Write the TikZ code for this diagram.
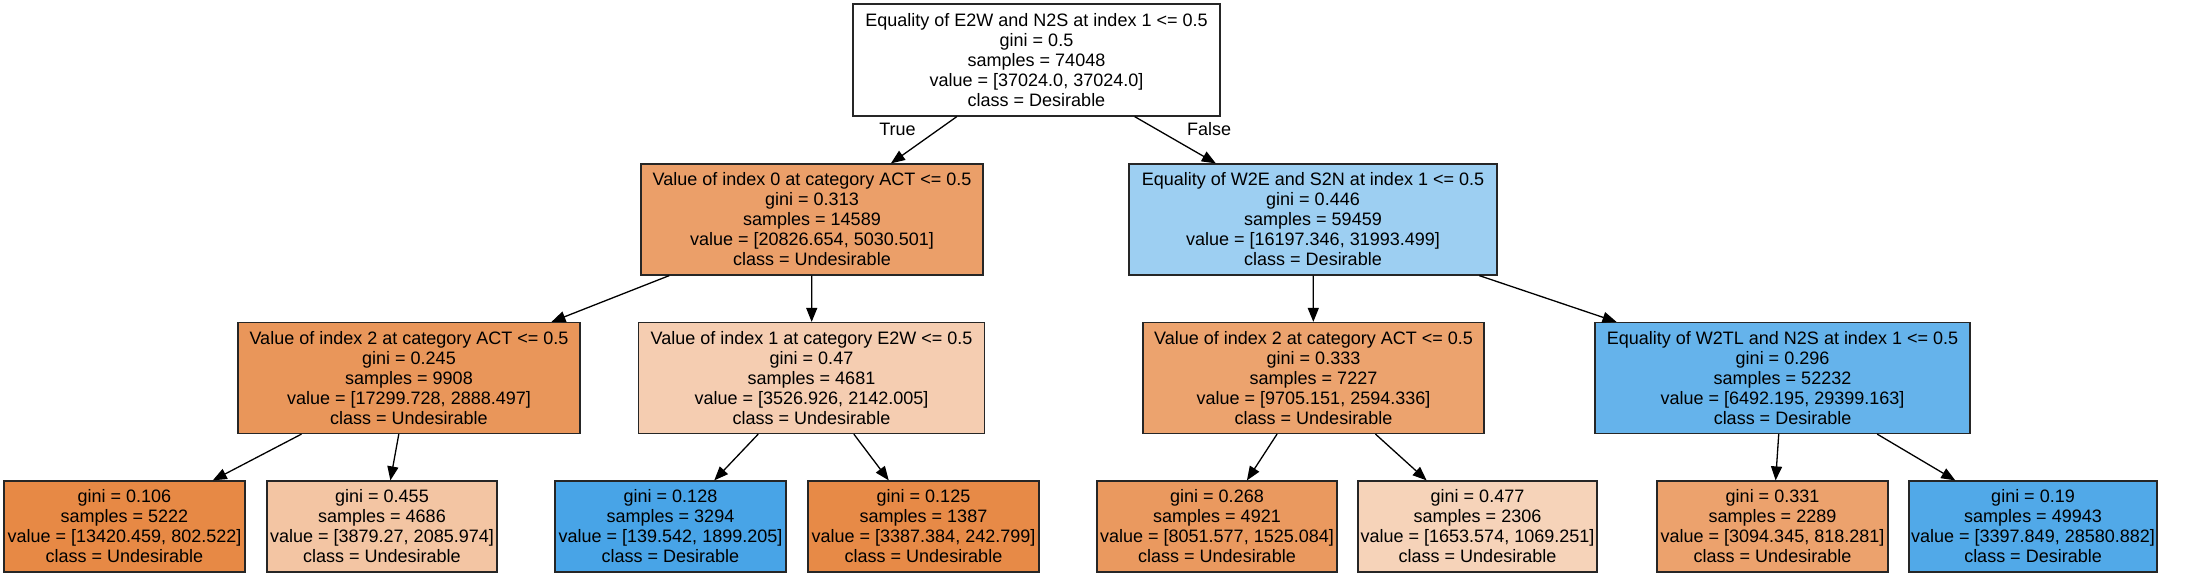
\documentclass[tikz,border=0pt]{standalone}
\usepackage{fontspec}
\setmainfont{Liberation Sans}
\usetikzlibrary{arrows.meta}

\definecolor{c1}{RGB}{235,159,105}
\definecolor{c2}{RGB}{233,150,90}
\definecolor{c3}{RGB}{231,137,69}
\definecolor{c4}{RGB}{243,197,163}
\definecolor{c5}{RGB}{245,205,177}
\definecolor{c6}{RGB}{72,164,231}
\definecolor{c7}{RGB}{231,138,71}
\definecolor{c8}{RGB}{157,207,242}
\definecolor{c9}{RGB}{236,163,110}
\definecolor{c10}{RGB}{234,153,95}
\definecolor{c11}{RGB}{246,211,185}
\definecolor{c12}{RGB}{101,179,235}
\definecolor{c13}{RGB}{236,162,109}
\definecolor{c14}{RGB}{81,169,232}

\begin{document}
\begin{tikzpicture}[x=0.5pt, y=-0.5pt,
  box/.style={draw=black!85, line width=0.6pt, align=center, inner sep=0pt,
    font=\fontsize{9}{10}\selectfont, minimum height=55.5pt},
  leaf/.style={box, minimum height=45.5pt},
  lbl/.style={font=\fontsize{9}{10}\selectfont},
  edge/.style={line width=0.65pt, -{Triangle[length=7pt,width=5.5pt]}}]
\path [fill=white] (0,0) rectangle (2203,577);
\useasboundingbox (0,0) rectangle (2203,577);
\node [box, fill=white, minimum width=183.5pt, minimum height=56pt] (n0) at (1036.5,60)
  {Equality of E2W and N2S at index 1 <= 0.5\\gini = 0.5\\samples = 74048\\value = [37024.0, 37024.0]\\class = Desirable};
\node [box, fill=c1, minimum width=171pt] (n1) at (812,219.5)
  {Value of index 0 at category ACT <= 0.5\\gini = 0.313\\samples = 14589\\value = [20826.654, 5030.501]\\class = Undesirable};
\node [box, fill=c8, minimum width=184pt] (n8) at (1313,219.5)
  {Equality of W2E and S2N at index 1 <= 0.5\\gini = 0.446\\samples = 59459\\value = [16197.346, 31993.499]\\class = Desirable};
\node [box, fill=c2, minimum width=171pt] (n2) at (409,378)
  {Value of index 2 at category ACT <= 0.5\\gini = 0.245\\samples = 9908\\value = [17299.728, 2888.497]\\class = Undesirable};
\node [box, fill=c5, minimum width=173pt] (n5) at (811.5,378)
  {Value of index 1 at category E2W <= 0.5\\gini = 0.47\\samples = 4681\\value = [3526.926, 2142.005]\\class = Undesirable};
\node [box, fill=c9, minimum width=170.5pt] (n9) at (1313.5,378)
  {Value of index 2 at category ACT <= 0.5\\gini = 0.333\\samples = 7227\\value = [9705.151, 2594.336]\\class = Undesirable};
\node [box, fill=c12, minimum width=187.5pt] (n12) at (1782.5,378)
  {Equality of W2TL and N2S at index 1 <= 0.5\\gini = 0.296\\samples = 52232\\value = [6492.195, 29399.163]\\class = Desirable};
\node [leaf, fill=c3, minimum width=120.5pt] (n3) at (124.5,526.5)
  {gini = 0.106\\samples = 5222\\value = [13420.459, 802.522]\\class = Undesirable};
\node [leaf, fill=c4, minimum width=115pt] (n4) at (382,526.5)
  {gini = 0.455\\samples = 4686\\value = [3879.27, 2085.974]\\class = Undesirable};
\node [leaf, fill=c6, minimum width=115.5pt] (n6) at (670.5,526.5)
  {gini = 0.128\\samples = 3294\\value = [139.542, 1899.205]\\class = Desirable};
\node [leaf, fill=c7, minimum width=115.5pt] (n7) at (923.5,526.5)
  {gini = 0.125\\samples = 1387\\value = [3387.384, 242.799]\\class = Undesirable};
\node [leaf, fill=c10, minimum width=120pt] (n10) at (1217,526.5)
  {gini = 0.268\\samples = 4921\\value = [8051.577, 1525.084]\\class = Undesirable};
\node [leaf, fill=c11, minimum width=119.5pt] (n11) at (1477.5,526.5)
  {gini = 0.477\\samples = 2306\\value = [1653.574, 1069.251]\\class = Undesirable};
\node [leaf, fill=c13, minimum width=115.5pt] (n13) at (1772.5,526.5)
  {gini = 0.331\\samples = 2289\\value = [3094.345, 818.281]\\class = Undesirable};
\node [leaf, fill=c14, minimum width=124pt] (n14) at (2033,526.5)
  {gini = 0.19\\samples = 49943\\value = [3397.849, 28580.882]\\class = Desirable};
\node [lbl] (true) at (897.5,129.5) {True};
\node [lbl] (false) at (1209,129.5) {False};
\draw [edge] (n0) -- (n1);
\draw [edge] (n0) -- (n8);
\draw [edge] (n1) -- (n2);
\draw [edge] (n1) -- (n5);
\draw [edge] (n2) -- (n3);
\draw [edge] (n2) -- (n4);
\draw [edge] (n5) -- (n6);
\draw [edge] (n5) -- (n7);
\draw [edge] (n8) -- (n9);
\draw [edge] (n8) -- (n12);
\draw [edge] (n9) -- (n10);
\draw [edge] (n9) -- (n11);
\draw [edge] (n12) -- (n13);
\draw [edge] (n12) -- (n14);
\end{tikzpicture}
\end{document}
